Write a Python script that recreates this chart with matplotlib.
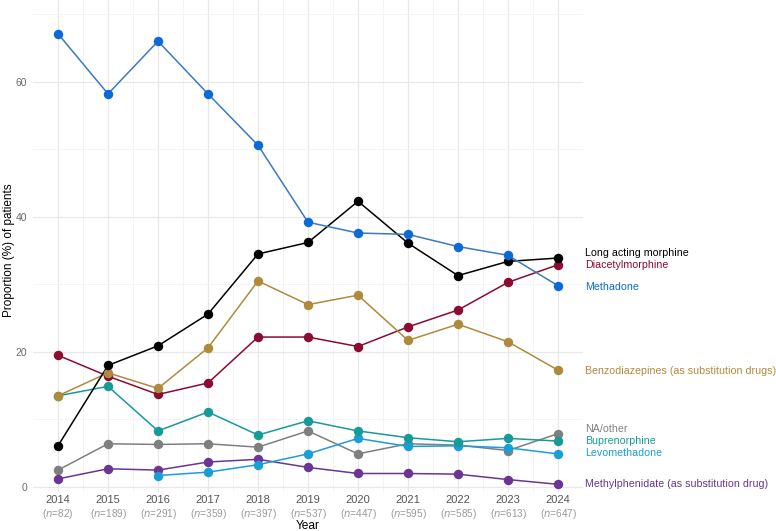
import numpy as np
import matplotlib.pyplot as plt
from matplotlib.ticker import MultipleLocator

plt.rcParams['font.family'] = ['Liberation Sans', 'DejaVu Sans']

years = [2014, 2015, 2016, 2017, 2018, 2019, 2020, 2021, 2022, 2023, 2024]
n_patients = [82, 189, 291, 359, 397, 537, 447, 595, 585, 613, 647]

methadone = [67.1, 58.2, 66.0, 58.2, 50.6, 39.2, 37.6, 37.4, 35.6, 34.3, 29.8]
morphine = [6.1, 18.0, 20.9, 25.6, 34.5, 36.2, 42.3, 36.1, 31.3, 33.4, 33.9]
diacetyl = [19.5, 16.4, 13.7, 15.4, 22.2, 22.2, 20.8, 23.7, 26.2, 30.3, 32.9]
benzo = [13.5, 16.9, 14.6, 20.6, 30.5, 27.0, 28.4, 21.7, 24.1, 21.5, 17.3]
bupre = [13.5, 14.9, 8.3, 11.1, 7.7, 9.8, 8.3, 7.3, 6.7, 7.2, 6.8]
na_other = [2.5, 6.4, 6.3, 6.4, 5.9, 8.3, 4.9, 6.4, 6.2, 5.4, 7.9]
levo = [np.nan, np.nan, 1.7, 2.2, 3.3, 4.9, 7.2, 6.0, 6.1, 5.8, 4.9]
methylph = [1.2, 2.7, 2.5, 3.7, 4.1, 2.9, 2.0, 2.0, 1.9, 1.1, 0.4]

# name, values, line colour, point colour, label nudge
series = [
    ("NA/other", na_other, "#7f7f7f", "#7f7f7f", 0.7),
    ("Methylphenidate (as substitution drug)", methylph, "#6b3592", "#6b3592", 0.0),
    ("Levomethadone", levo, "#1a9ed8", "#1a9ed8", 0.1),
    ("Buprenorphine", bupre, "#179b98", "#179b98", 0.0),
    ("Diacetylmorphine", diacetyl, "#8c0b30", "#8c0b30", 0.0),
    ("Benzodiazepines (as substitution drugs)", benzo, "#b08a3c", "#b08a3c", -0.1),
    ("Long acting morphine", morphine, "#000000", "#000000", 0.8),
    ("Methadone", methadone, "#3a7ac4", "#0b6ad8", -0.2),
]

fig = plt.figure(figsize=(7.76, 5.31), dpi=100)
ax = fig.add_axes([33 / 776, 39 / 531, 550 / 776, 492 / 531])

for name, vals, lc, pc, nudge in series:
    ax.plot(years, vals, color=lc, lw=1.1, zorder=3)
    ax.plot(years, vals, "o", color=pc, ms=6.8, mew=0, zorder=4)
    ax.text(years[-1] + 0.55, vals[-1] + nudge, name, color=pc, fontsize=7.7,
            va="center", ha="left", clip_on=False)

ax.set_xlim(2013.5, 2024.5)
ax.set_ylim(-0.74, 72.1)
ax.yaxis.set_major_locator(MultipleLocator(20))
ax.yaxis.set_minor_locator(MultipleLocator(10))
ax.set_xticks(years)
ax.set_xticks([y + 0.5 for y in years[:-1]], minor=True)
ax.grid(which="major", color="#e8e8e8", lw=0.9)
ax.grid(which="minor", color="#f3f3f3", lw=0.6)
ax.set_axisbelow(True)
for s in ax.spines.values():
    s.set_visible(False)
ax.tick_params(which="both", length=0)
ax.tick_params(axis="y", labelsize=7.5, labelcolor="#6b6b6b", pad=4)
ax.set_xticklabels([str(y) for y in years], fontsize=8.0, color="#555555")
ax.tick_params(axis="x", pad=2.5)

trans = ax.get_xaxis_transform()
for y, n in zip(years, n_patients):
    ax.text(y, -0.044, r"($\it{n}$=%d)" % n, transform=trans, ha="center", va="center",
            fontsize=7.2, color="#999999", clip_on=False)

fig.text(308 / 776, 1 - 526 / 531, "Year", ha="center", va="center", fontsize=8.6)
fig.text(9 / 776, 1 - 250 / 531, "Proportion (%) of patients", rotation=90,
         ha="center", va="center", fontsize=8.5)

fig.savefig("out.png", dpi=100, facecolor="white")
